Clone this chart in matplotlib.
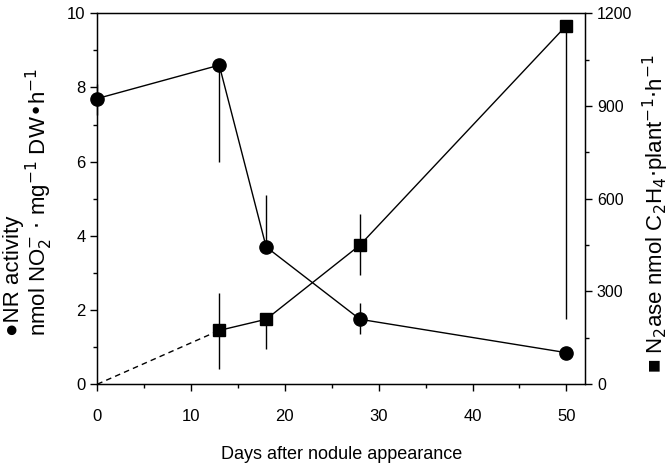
import numpy as np
import matplotlib
matplotlib.use("Agg")
import matplotlib.pyplot as plt
from matplotlib.ticker import MultipleLocator

# NR activity (left axis), filled circles
nr_days = [0, 13, 18, 28, 50]
nr_vals = [7.7, 8.6, 3.7, 1.75, 0.85]
nr_err_lo = [0.45, 2.6, 0.0, 0.4, 0.1]
nr_err_hi = [0.4, 0.0, 1.4, 0.45, 0.1]

# N2ase (right axis), filled squares
n2_days = [13, 18, 28, 50]
n2_vals = [174, 210, 450, 1160]
n2_err_lo = [126, 96, 96, 950]
n2_err_hi = [120, 0, 102, 0]
# dashed extrapolation to origin
n2_dash_days = [0, 13]
n2_dash_vals = [0, 174]

plt.rcParams['font.family'] = ['Liberation Sans', 'DejaVu Sans']

fig = plt.figure(figsize=(6.71, 4.72), dpi=100)
ax = fig.add_axes([0.145, 0.186, 0.727, 0.786])
ax2 = ax.twinx()

ax.errorbar(nr_days, nr_vals, yerr=[nr_err_lo, nr_err_hi], fmt='o-', color='black',
            markersize=9.5, linewidth=1.0, elinewidth=1.0, capsize=0, zorder=3,
            clip_on=False)
ax2.errorbar(n2_days, n2_vals, yerr=[n2_err_lo, n2_err_hi], fmt='s-', color='black',
             markersize=9, linewidth=1.0, elinewidth=1.0, capsize=0, zorder=3)
ax2.plot(n2_dash_days, n2_dash_vals, '--', color='black', linewidth=1.0, dashes=(4, 3))

ax.set_xlim(0, 52)
ax.set_ylim(0, 10)
ax2.set_ylim(0, 1200)

ax.xaxis.set_major_locator(MultipleLocator(10))
ax.xaxis.set_minor_locator(MultipleLocator(5))
ax.yaxis.set_major_locator(MultipleLocator(2))
ax.yaxis.set_minor_locator(MultipleLocator(1))
ax2.yaxis.set_major_locator(MultipleLocator(300))
ax2.yaxis.set_minor_locator(MultipleLocator(150))

ax.tick_params(which='both', direction='out', labelsize=12, width=1.0)
ax.tick_params(which='major', length=5)
ax.tick_params(which='minor', length=3)
ax.tick_params(axis='x', pad=13)
ax2.tick_params(which='both', direction='out', labelsize=11.5, width=1.0)
ax2.tick_params(which='major', length=5)
ax2.tick_params(which='minor', length=3)

for s in ax.spines.values():
    s.set_linewidth(1.0)

ax.set_xlabel("Days after nodule appearance", fontsize=13, labelpad=16)
ax.set_ylabel("\u25cfNR activity\nnmol NO$_2^{-}$ $\\cdot$ mg$^{-1}$ DW\u2022h$^{-1}$",
              fontsize=16, linespacing=1.0, multialignment='left')
ax.yaxis.set_label_coords(-0.086, 0.49)
ax2.set_ylabel("\u25a0 N$_2$ase nmol C$_2$H$_4$$\\cdot$plant$^{-1}$$\\cdot$h$^{-1}$",
               fontsize=16)
ax2.yaxis.set_label_coords(1.115, 0.46)

fig.savefig("out.png", dpi=100)
